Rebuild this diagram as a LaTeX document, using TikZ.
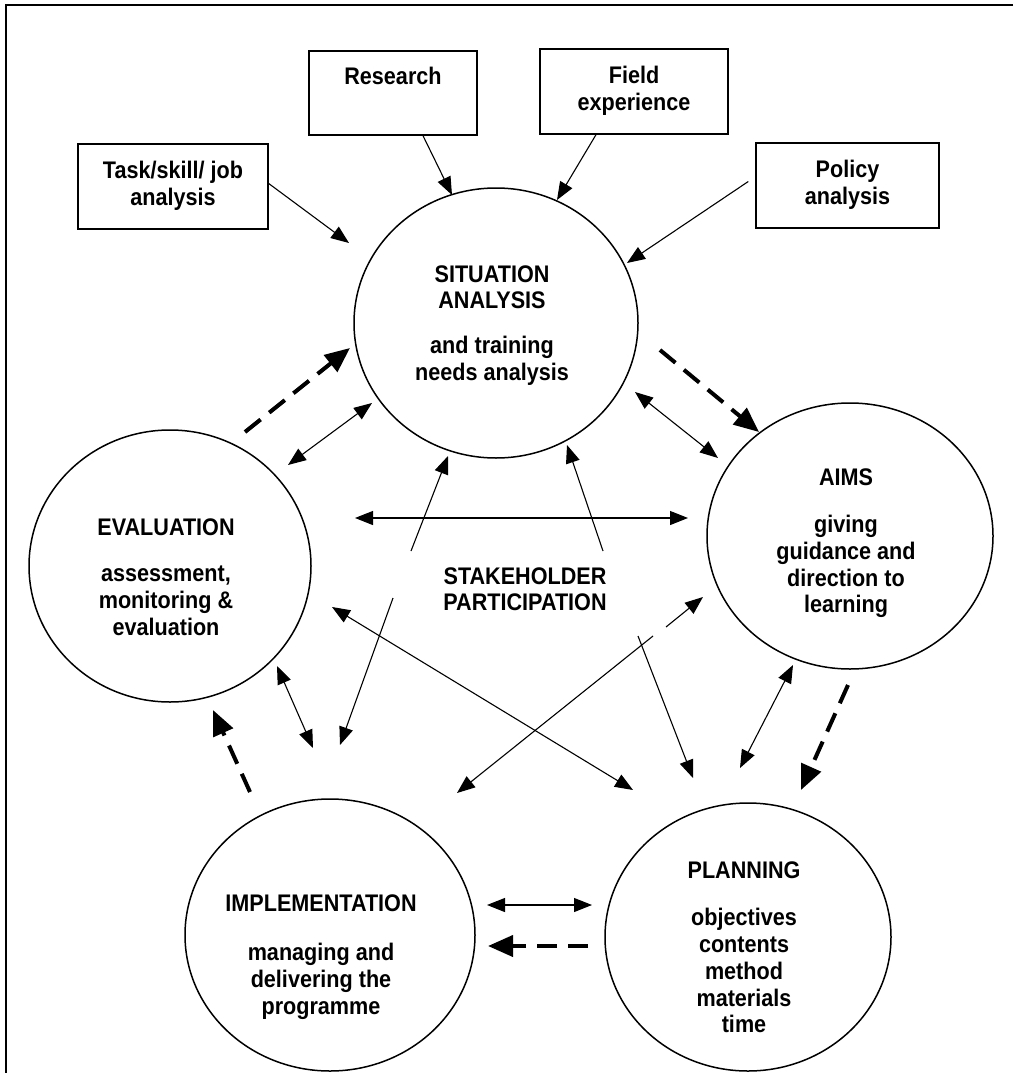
\documentclass[tikz,border=0pt]{standalone}
\usepackage{fontspec}
\setmainfont{Liberation Sans}[FakeStretch=0.9]
\usetikzlibrary{arrows.meta,shapes.geometric}
\begin{document}
\begin{tikzpicture}[x=1pt,y=-1pt,
  every node/.style={inner sep=0pt},
  txt/.style={font=\bfseries\fontsize{24}{26.7}\selectfont, align=center},
  srcbox/.style={draw, line width=1.4pt, txt, minimum height=85pt},
  stage/.style={ellipse, draw, line width=1.5pt},
  lbl/.style={txt, anchor=north},
  oneway/.style={line width=1.1pt, -{Triangle[length=18pt,width=14pt]}},
  twoway/.style={line width=1.1pt, {Triangle[length=18pt,width=14pt]}-{Triangle[length=18pt,width=14pt]}},
  flow/.style={line width=4pt, dash pattern=on 20pt off 11pt, -{Triangle[length=25pt,width=21pt]}},
]
\useasboundingbox (0,0) rectangle (1013,1073);

% frame (top and left edges)
\draw[line width=2pt] (1013,5) -- (6,5) -- (6,1073);

% input sources
\node[srcbox, minimum width=190pt] (task) at (173,186.5) {\strut Task/skill/ job\\analysis\strut};
\node[srcbox, minimum width=168pt, minimum height=84pt] (research) at (393,93) {\strut Research\\ \strut};
\node[srcbox, minimum width=188pt] (field) at (634,91.5) {\strut Field\\experience\strut};
\node[srcbox, minimum width=183pt] (policy) at (847.5,185.5) {\strut Policy\\analysis\strut};

% the five stages
\node[stage, minimum width=284pt, minimum height=270pt] (sit)  at (496,323) {};
\node[stage, minimum width=286pt, minimum height=266pt] (aims) at (850,536) {};
\node[stage, minimum width=282pt, minimum height=272pt] (eval) at (170,566) {};
\node[stage, minimum width=290pt, minimum height=272pt] (impl) at (330,935) {};
\node[stage, minimum width=286pt, minimum height=268pt] (plan) at (748,937) {};

% stage texts
\node[lbl] (sittext)  at (492,263.3) {\strut SITUATION\\ANALYSIS\\[18pt]and training\\needs analysis};
\node[lbl] (aimstext) at (846,466.3) {\strut AIMS\\[21pt]giving\\guidance and\\direction to\\learning};
\node[lbl] (evaltext) at (166,516.3) {\strut EVALUATION\\[20pt]assessment,\\monitoring \&\\evaluation};
\node[lbl] (impltext) at (321,892.3) {\strut IMPLEMENTATION\\[23pt]managing and\\delivering the\\programme};
\node[lbl] (plantext) at (744,859.3) {\strut PLANNING\\[21pt]objectives\\contents\\method\\materials\\time};
\node[lbl] (stake)    at (525,565.3) {\strut STAKEHOLDER\\PARTICIPATION};

% arrow ends near the stages
\coordinate (sitTask)  at (349,243);
\coordinate (sitRes)   at (452,195);
\coordinate (sitField) at (557,200);
\coordinate (sitPol)   at (627,263);

\coordinate (evalA)  at (245,432);  \coordinate (sitA)   at (350,348);
\coordinate (evalB)  at (288,465);  \coordinate (sitB)   at (372,403);
\coordinate (evalC)  at (355,518);  \coordinate (aimsC)  at (688,518);
\coordinate (sitD)   at (448,456);  \coordinate (midD1)  at (411,551);
\coordinate (midD2)  at (393,598);  \coordinate (implD)  at (340,745);
\coordinate (sitE)   at (567,445);  \coordinate (midE1)  at (603,551);
\coordinate (midE2)  at (638,636);  \coordinate (planE)  at (693,778);
\coordinate (sitF)   at (635,392);  \coordinate (aimsF)  at (718,458);
\coordinate (sitG)   at (660,350);  \coordinate (aimsG)  at (759,432);
\coordinate (evalH)  at (332,607);  \coordinate (planH)  at (633,790);
\coordinate (aimsI)  at (703,597);  \coordinate (midI1)  at (666,627);
\coordinate (midI2)  at (653,636);  \coordinate (implI)  at (457,793);
\coordinate (evalJ)  at (277,666);  \coordinate (implJ)  at (313,748);
\coordinate (implK)  at (250,792);  \coordinate (evalK)  at (213,710);
\coordinate (aimsL)  at (793,665);  \coordinate (planL)  at (740,768);
\coordinate (aimsM)  at (848,685);  \coordinate (planM)  at (801,790);
\coordinate (implN)  at (487,905);  \coordinate (planN)  at (592,905);
\coordinate (planO)  at (588,946);  \coordinate (implO)  at (488,946);

% sources feeding the situation analysis
\draw[oneway] ([yshift=3pt]task.east) -- (sitTask);
\draw[oneway] ([xshift=30pt]research.south) -- (sitRes);
\draw[oneway] ([xshift=-38pt]field.south) -- (sitField);
\draw[oneway] ([shift={(-7pt,4pt)}]policy.west) -- (sitPol);

% main cycle (dashed)
\draw[flow] (evalA) -- (sitA);
\draw[flow] (sitG) -- (aimsG);
\draw[flow] (aimsM) -- (planM);
\draw[flow] (planO) -- (implO);
\draw[flow] (implK) -- (evalK);

% two-way links between neighbours
\draw[twoway] (evalB) -- (sitB);
\draw[twoway] (sitF) -- (aimsF);
\draw[twoway] (aimsL) -- (planL);
\draw[twoway] (implN) -- (planN);
\draw[twoway] (evalJ) -- (implJ);

% stakeholder links across the middle
\draw[twoway] (evalC) -- (aimsC);
\draw[twoway] (evalH) -- (planH);
\draw[oneway] (midD1) -- (sitD);
\draw[oneway] (midD2) -- (implD);
\draw[oneway] (midE1) -- (sitE);
\draw[oneway] (midE2) -- (planE);
\draw[oneway] (midI1) -- (aimsI);
\draw[oneway] (midI2) -- (implI);
\end{tikzpicture}
\end{document}
